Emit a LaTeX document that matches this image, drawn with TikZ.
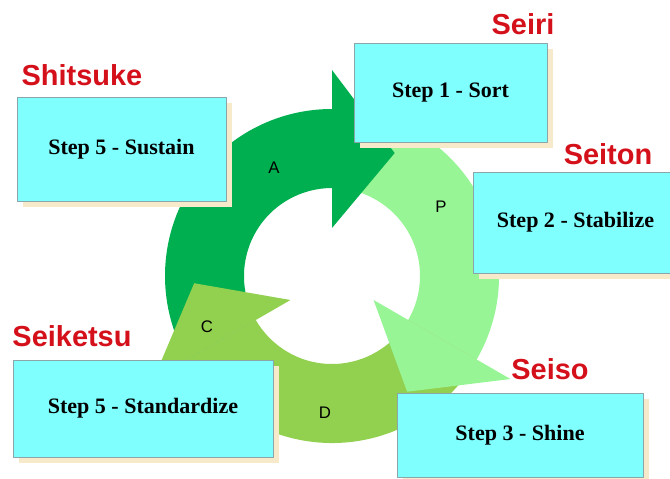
\documentclass[tikz,border=0pt]{standalone}
\usepackage{fontspec}
\setmainfont{Liberation Serif}
\setsansfont{Liberation Sans}
\usetikzlibrary{shadows}

\definecolor{cycA}{RGB}{0,176,80}
\definecolor{cycP}{RGB}{152,245,150}
\definecolor{cycD}{RGB}{146,208,80}
\definecolor{stepcyan}{RGB}{128,255,255}
\definecolor{stepedge}{RGB}{140,165,170}
\definecolor{stepshade}{RGB}{246,234,202}
\definecolor{sred}{RGB}{212,16,26}

\begin{document}
\begin{tikzpicture}[line join=round,
    stepbox/.style={draw=stepedge, line width=0.8pt, fill=stepcyan, inner sep=0pt,
      drop shadow={shadow xshift=0.18cm, shadow yshift=-0.18cm, fill=stepshade, opacity=1},
      font=\fontsize{18.8}{22}\selectfont\bfseries},
    sname/.style={text=sred, font=\sffamily\bfseries\fontsize{24.7}{28}\selectfont},
    pdca/.style={font=\sffamily\fontsize{14.3}{16}\selectfont}]
  \useasboundingbox (-9.96,-6.06) rectangle (10.14,8.28);
  % ring
  \def\rin{2.64} \def\rout{5.01}
  \foreach \b/\c in {90/cycA, -30/cycP, -150/cycD}
    \fill[\c] (\b+120:\rin) arc[start angle=\b+120, end angle=\b, radius=\rin]
      -- (\b:\rout) arc[start angle=\b, end angle=\b+120, radius=\rout] -- cycle;
  \foreach \b/\c in {90/cycA, -30/cycP, -150/cycD}
    \fill[\c] (\b:1.44) -- (\b-27:4.14) -- (\b:6.18) -- cycle;
  \node[pdca] (lA) at (-1.74,3.24) {A};
  \node[pdca] (lP) at (3.27,2.07) {P};
  \node[pdca] (lC) at (-3.75,-1.53) {C};
  \node[pdca] (lD) at (-0.21,-4.11) {D};
  % steps
  \node[stepbox, minimum width=6.27cm, minimum height=3.12cm] (sustain) at (-6.315,3.81) {Step 5 - Sustain};
  \node[stepbox, minimum width=5.79cm, minimum height=2.97cm] (sort) at (3.555,5.505) {Step 1 - Sort};
  \node[stepbox, minimum width=6.15cm, minimum height=3.03cm] (stabilize) at (7.305,1.605) {Step 2 - Stabilize};
  \node[stepbox, minimum width=7.38cm, minimum height=2.52cm] (shine) at (5.64,-4.77) {Step 3 - Shine};
  \node[stepbox, minimum width=7.8cm, minimum height=2.91cm] (standardize) at (-5.67,-3.975) {Step 5 - Standardize};
  % 5S names
  \node[sname] (shitsuke) at (-7.5,6.03) {Shitsuke};
  \node[sname] (seiri) at (5.73,7.56) {Seiri};
  \node[sname] (seiton) at (8.28,3.66) {Seiton};
  \node[sname] (seiso) at (6.54,-2.79) {Seiso};
  \node[sname] (seiketsu) at (-7.8,-1.8) {Seiketsu};
\end{tikzpicture}
\end{document}
